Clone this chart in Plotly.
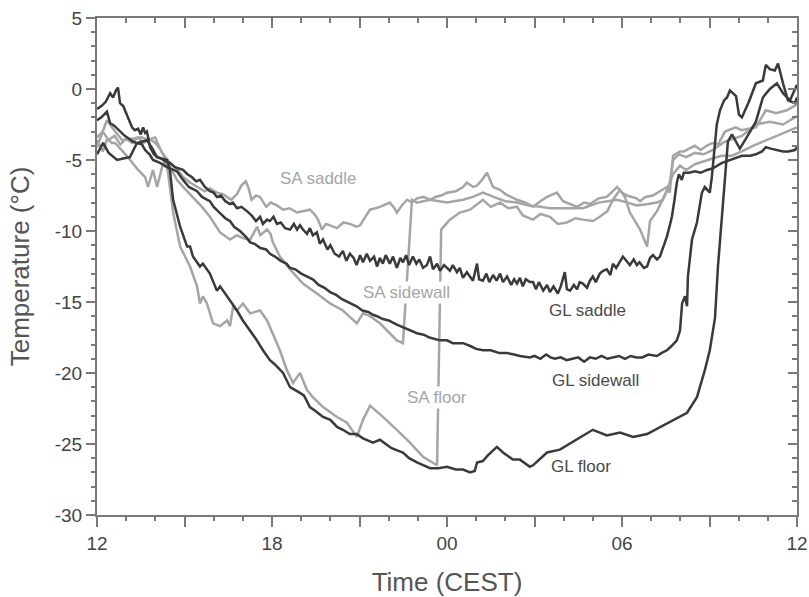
import plotly.graph_objects as go

# Hours after 12:00 CEST (0 = 12:00, 24 = 12:00 next day)
gl_saddle_t = [0, 0.15, 0.3, 0.45, 0.55, 0.65, 0.72, 0.79, 0.9, 1.03, 1.12, 1.2, 1.3, 1.41, 1.5, 1.58, 1.65, 1.71, 1.82, 1.95,
               2.06, 2.2, 2.35, 2.5, 2.67, 2.8, 2.95, 3.1, 3.25, 3.4, 3.53, 3.7, 3.87, 4.0, 4.11, 4.25, 4.4, 4.56, 4.66, 4.8,
               4.95, 5.14, 5.3, 5.45, 5.59, 5.69, 5.83, 5.93, 6.05, 6.17, 6.3, 6.45, 6.62, 6.75, 6.86, 6.96, 7.06, 7.2, 7.3, 7.4,
               7.54, 7.64, 7.75, 7.9, 8.0, 8.15, 8.3, 8.43, 8.55, 8.67, 8.8, 8.9, 9.02, 9.12, 9.25, 9.36, 9.5, 9.6, 9.7, 9.8,
               9.9, 10.04, 10.15, 10.28, 10.4, 10.49, 10.6, 10.7, 10.83, 10.95, 11.05, 11.18, 11.31, 11.42, 11.52, 11.66, 11.76, 11.9, 12.0, 12.1,
               12.2, 12.34, 12.44, 12.55, 12.68, 12.79, 12.89, 13.03, 13.1, 13.23, 13.35, 13.45, 13.58, 13.7, 13.82, 13.92, 14.06, 14.2, 14.3, 14.4,
               14.5, 14.6, 14.7, 14.84, 14.95, 15.05, 15.15, 15.3, 15.43, 15.53, 15.65, 15.8, 15.9, 16.04, 16.11, 16.22, 16.35, 16.46, 16.55, 16.66,
               16.8, 16.9, 17.0, 17.1, 17.24, 17.35, 17.48, 17.6, 17.69, 17.8, 17.93, 18.03, 18.15, 18.27, 18.4, 18.51, 18.6, 18.75, 18.86, 18.96,
               19.06, 19.2, 19.3, 19.4, 19.54, 19.64, 19.71, 19.8, 19.88, 19.95, 20.05, 20.12, 20.3, 20.5, 20.7, 20.91, 21.1, 21.43, 21.7, 22.11,
               22.4, 22.59, 22.8, 22.93, 23.1, 23.3, 23.52, 23.7, 23.93, 24.0]
gl_saddle_v = [-1.4, -1.2, -0.9, -0.3, -0.6, -0.1, 0.1, -1.0, -1.2, -1.8, -2.3, -2.7, -2.9, -2.8, -3.2, -2.7, -3.1, -3.0, -4.1, -4.6,
               -4.8, -4.9, -5.1, -5.2, -5.5, -5.6, -5.7, -6.0, -6.2, -6.5, -6.4, -6.9, -7.2, -7.3, -7.6, -7.5, -7.9, -8.1, -8.0, -8.4,
               -8.3, -8.6, -8.9, -9.3, -9.0, -9.5, -9.2, -9.3, -9.0, -9.5, -9.4, -9.8, -9.9, -9.5, -9.9, -9.6, -9.9, -10.2, -9.8, -10.3,
               -10.1, -10.9, -10.6, -11.3, -11.0, -11.6, -11.8, -11.4, -12.1, -11.6, -11.9, -12.4, -11.7, -12.2, -11.6, -12.1, -11.8, -12.5, -11.9, -12.3,
               -11.7, -12.3, -11.8, -12.6, -11.9, -12.2, -11.7, -12.4, -11.8, -12.3, -12.0, -12.6, -12.4, -11.8, -12.7, -12.3, -12.8, -12.4, -12.6, -12.8,
               -12.4, -12.9, -12.6, -13.3, -12.9, -13.2, -13.5, -12.3, -13.4, -13.5, -13.0, -13.6, -13.1, -13.5, -13.0, -13.6, -13.2, -13.8, -13.4, -13.7,
               -13.3, -13.9, -13.4, -13.6, -13.6, -14.1, -13.6, -14.2, -13.8, -14.3, -13.9, -14.4, -13.9, -12.9, -14.1, -14.2, -13.8, -14.1, -13.6, -13.7,
               -14.0, -13.5, -13.2, -13.6, -13.0, -12.8, -12.7, -13.1, -12.3, -12.6, -12.2, -11.8, -12.1, -12.4, -12.0, -12.4, -12.2, -12.6, -12.5, -11.9,
               -11.7, -12.0, -11.8, -11.2, -10.4, -9.6, -9.0, -7.8, -6.6, -6.0, -6.4, -5.9, -5.9, -5.8, -5.9, -5.7, -5.6, -5.2, -5.0, -4.7,
               -4.7, -4.6, -4.4, -4.1, -4.2, -4.3, -4.4, -4.4, -4.3, -4.1]

gl_sidewall_t = [0, 0.15, 0.34, 0.45, 0.6, 0.79, 0.95, 1.1, 1.23, 1.35, 1.54, 1.65, 1.8, 1.92, 2.16, 2.4, 2.74, 2.95, 3.15, 3.43,
                 3.6, 3.87, 4.0, 4.2, 4.4, 4.56, 4.7, 4.9, 5.1, 5.25, 5.4, 5.6, 5.8, 5.93, 6.1, 6.3, 6.5, 6.62, 6.8, 7.0,
                 7.2, 7.4, 7.6, 7.8, 7.99, 8.2, 8.4, 8.67, 8.9, 9.1, 9.3, 9.46, 9.6, 9.8, 10.0, 10.28, 10.5, 10.7, 10.97, 11.2,
                 11.4, 11.76, 12.0, 12.2, 12.55, 12.8, 13.0, 13.23, 13.5, 13.8, 14.06, 14.3, 14.5, 14.84, 15.0, 15.2, 15.4, 15.55, 15.7, 15.9,
                 16.1, 16.3, 16.5, 16.7, 16.9, 17.1, 17.3, 17.5, 17.7, 17.9, 18.1, 18.3, 18.5, 18.7, 18.9, 19.1, 19.2, 19.35, 19.54, 19.7,
                 19.88, 19.99, 20.06, 20.16, 20.23, 20.26, 20.4, 20.57, 20.74, 20.84, 21.01, 21.08, 21.15, 21.25, 21.36, 21.5, 21.6, 21.7, 21.91, 22.01,
                 22.11, 22.35, 22.59, 22.83, 22.93, 23.07, 23.24, 23.35, 23.52, 23.69, 23.93, 24.0]
gl_sidewall_v = [-2.2, -2.0, -1.6, -2.4, -2.6, -3.0, -3.3, -3.5, -3.7, -3.8, -3.9, -4.3, -4.6, -5.0, -5.2, -5.5, -5.8, -6.4, -6.9, -7.2,
                 -7.6, -7.9, -8.3, -8.7, -9.1, -9.3, -9.7, -10.0, -10.4, -10.8, -10.9, -11.2, -11.3, -11.6, -11.8, -12.1, -12.3, -12.6, -12.7, -13.0,
                 -13.2, -13.4, -13.8, -14.0, -14.3, -14.5, -14.8, -15.1, -15.3, -15.6, -15.7, -15.9, -16.0, -16.2, -16.3, -16.6, -16.8, -17.0, -17.2, -17.3,
                 -17.5, -17.7, -17.7, -17.9, -17.9, -18.1, -18.3, -18.4, -18.4, -18.6, -18.6, -18.7, -18.8, -18.9, -18.8, -19.0, -18.7, -18.9, -19.0, -18.9,
                 -19.1, -19.0, -18.9, -19.2, -18.9, -19.0, -18.8, -19.0, -18.9, -18.8, -19.0, -18.8, -18.9, -18.9, -18.7, -18.8, -18.8, -18.6, -18.4, -18.1,
                 -17.7, -17.0, -15.1, -14.6, -15.3, -13.2, -10.6, -9.4, -7.3, -6.9, -7.3, -6.2, -4.8, -2.5, -1.5, -0.8, -0.6, -0.1, -0.5, -1.8,
                 -2.0, -0.9, 0.4, 0.6, 1.7, 1.4, 1.3, 1.8, 0.4, -0.8, -1.0, -0.6]

gl_floor_t = [0, 0.21, 0.4, 0.69, 0.9, 1.13, 1.37, 1.71, 1.9, 2.06, 2.4, 2.5, 2.61, 2.85, 3.09, 3.19, 3.29, 3.53, 3.63, 3.87,
              4.11, 4.22, 4.56, 4.8, 5.0, 5.25, 5.45, 5.69, 5.93, 6.1, 6.38, 6.62, 6.8, 6.96, 7.1, 7.3, 7.5, 7.75, 8.0, 8.23,
              8.43, 8.67, 8.9, 9.12, 9.46, 9.7, 9.9, 10.1, 10.49, 10.7, 10.97, 11.2, 11.42, 11.7, 12.0, 12.3, 12.55, 12.79, 12.95, 13.03,
              13.23, 13.4, 13.6, 13.71, 13.92, 14.06, 14.26, 14.5, 14.84, 14.95, 15.2, 15.43, 15.87, 16.2, 16.46, 16.8, 17.0, 17.24, 17.48, 17.93,
              18.2, 18.38, 18.86, 19.3, 19.75, 20.23, 20.57, 20.84, 21.01, 21.19, 21.29, 21.43, 21.53, 21.63, 21.77, 22.04, 22.25, 22.59, 22.83, 23.07,
              23.31, 23.52, 23.76, 24.0]
gl_floor_v = [-4.6, -3.8, -4.5, -5.0, -4.9, -4.8, -3.8, -3.6, -4.2, -4.8, -5.0, -5.7, -7.8, -9.7, -11.1, -11.1, -11.8, -12.5, -12.3, -13.0,
              -14.2, -13.9, -14.9, -15.6, -16.3, -17.0, -17.6, -18.4, -19.1, -19.4, -20.0, -21.0, -21.2, -21.4, -21.6, -22.4, -22.7, -23.1, -23.3, -23.8,
              -24.0, -24.3, -24.3, -24.6, -24.9, -24.7, -25.0, -25.3, -25.6, -26.0, -26.3, -26.5, -26.7, -26.7, -26.6, -26.8, -26.8, -27.0, -26.9, -26.3,
              -26.2, -25.8, -25.4, -25.2, -25.6, -25.8, -26.1, -26.1, -26.6, -26.5, -26.0, -25.6, -25.4, -25.0, -24.7, -24.3, -24.0, -24.2, -24.4, -24.2,
              -24.4, -24.5, -24.3, -23.8, -23.3, -22.8, -21.7, -19.8, -18.4, -16.1, -12.5, -9.0, -6.2, -3.7, -3.2, -4.2, -3.5, -2.3, -0.6, 0.0,
              0.4, -0.3, -0.8, 0.3]

sa_saddle_t = [0, 0.34, 0.51, 0.86, 1.2, 1.54, 1.75, 1.99, 2.23, 2.5, 2.74, 2.95, 3.2, 3.43, 3.7, 3.87, 4.11, 4.32, 4.6, 4.8,
               4.95, 5.1, 5.2, 5.3, 5.45, 5.59, 5.8, 5.95, 6.17, 6.38, 6.6, 6.86, 7.06, 7.3, 7.45, 7.58, 7.71, 7.85, 7.99, 8.23,
               8.45, 8.67, 8.9, 9.02, 9.2, 9.36, 9.55, 9.7, 10.04, 10.2, 10.28, 10.45, 10.63, 10.8, 10.97, 11.2, 11.42, 11.6, 11.8, 12.0,
               12.3, 12.55, 12.68, 12.9, 13.03, 13.2, 13.37, 13.5, 13.58, 13.82, 14.0, 14.4, 14.7, 14.95, 15.2, 15.43, 15.77, 15.98, 16.2, 16.46,
               16.7, 16.9, 17.2, 17.48, 17.83, 18.0, 18.17, 18.5, 18.62, 18.8, 19.06, 19.3, 19.54, 19.64, 19.75, 19.99, 20.12, 20.3, 20.5, 20.7,
               20.9, 21.1, 21.3, 21.53, 21.9, 22.1, 22.59, 22.93, 23.28, 23.65, 24.0]
sa_saddle_v = [-4.1, -2.2, -2.7, -3.6, -3.5, -3.4, -3.6, -3.4, -4.5, -5.2, -5.6, -6.2, -6.6, -6.9, -7.2, -7.0, -7.3, -7.4, -7.8, -7.4,
               -6.8, -6.5, -7.0, -7.8, -7.5, -7.6, -8.3, -8.0, -8.2, -8.5, -8.4, -8.7, -8.6, -8.5, -8.8, -9.2, -9.9, -9.5, -9.6, -9.8,
               -9.4, -9.5, -9.7, -9.6, -9.0, -8.5, -8.4, -8.3, -8.0, -8.4, -8.7, -8.2, -7.8, -8.0, -7.7, -7.6, -7.8, -7.6, -7.5, -7.3,
               -7.2, -6.9, -6.6, -6.9, -6.8, -6.4, -5.9, -6.6, -6.9, -7.1, -7.4, -7.8, -8.0, -8.3, -7.9, -7.6, -7.3, -7.9, -8.1, -8.3,
               -8.0, -8.1, -7.7, -7.6, -6.9, -7.3, -7.5, -7.7, -7.9, -7.6, -7.5, -7.2, -6.9, -7.3, -4.7, -4.4, -4.4, -4.2, -4.0, -4.3,
               -4.0, -3.8, -3.9, -3.0, -2.7, -2.9, -2.7, -1.5, -1.7, -1.5, -1.1]

sa_sidewall_t = [0, 0.2, 0.4, 0.6, 0.8, 1.0, 1.2, 1.4, 1.6, 1.8, 2.0, 2.16, 2.4, 2.74, 3.0, 3.29, 3.6, 3.87, 4.22, 4.56,
                 4.8, 5.0, 5.25, 5.49, 5.6, 5.83, 5.95, 6.03, 6.27, 6.62, 7.06, 7.54, 7.99, 8.43, 8.91, 9.12, 9.36, 9.7, 10.04, 10.28,
                 10.49, 10.8, 10.97, 11.42, 12.0, 12.55, 12.89, 13.23, 13.6, 14.0, 14.4, 14.8, 15.2, 15.53, 16.0, 16.66, 17.2, 17.83, 18.2, 18.5,
                 18.9, 19.2, 19.4, 19.64, 19.75, 19.95, 20.2, 20.5, 20.8, 21.1, 21.53, 22.11, 22.59, 23.07, 23.52, 24.0]
sa_sidewall_v = [-3.4, -3.0, -3.6, -3.3, -3.9, -3.5, -3.8, -3.4, -3.8, -3.5, -3.8, -4.2, -5.1, -6.4, -7.0, -7.6, -8.3, -9.0, -10.1, -10.6,
                 -10.3, -10.5, -10.6, -9.7, -10.3, -9.9, -10.2, -10.8, -11.8, -12.7, -13.7, -14.4, -15.1, -15.6, -16.5, -15.8, -16.0, -16.5, -17.2, -17.7,
                 -17.9, -7.8, -8.0, -7.8, -8.0, -7.8, -7.6, -7.3, -7.6, -7.9, -8.0, -8.2, -8.3, -8.4, -8.4, -8.4, -8.0, -7.8, -8.0, -8.2,
                 -8.1, -8.0, -7.8, -6.6, -5.0, -4.6, -4.8, -4.5, -4.6, -4.3, -3.7, -3.3, -2.5, -2.3, -2.5, -1.9]

sa_floor_t = [0, 0.2, 0.35, 0.51, 0.62, 0.9, 1.06, 1.41, 1.65, 1.75, 1.92, 2.06, 2.23, 2.33, 2.43, 2.61, 2.85, 3.19, 3.43, 3.53,
              3.63, 3.77, 3.98, 4.22, 4.46, 4.56, 4.66, 4.8, 5.0, 5.25, 5.59, 5.83, 6.03, 6.27, 6.51, 6.72, 6.96, 7.2, 7.4, 7.75,
              8.23, 8.57, 8.91, 9.12, 9.36, 9.7, 10.28, 10.73, 11.18, 11.52, 11.66, 11.8, 12.1, 12.44, 12.79, 13.23, 13.5, 13.82, 14.1, 14.4,
              14.6, 14.95, 15.2, 15.53, 15.8, 16.11, 16.4, 16.66, 17.0, 17.24, 17.5, 17.69, 17.93, 18.1, 18.27, 18.62, 18.86, 18.96, 19.2, 19.54,
              19.75, 19.99, 20.2, 20.5, 20.8, 21.1, 21.4, 21.77, 22.11, 22.49, 22.83, 23.28, 23.65, 24.0]
sa_floor_v = [-3.6, -4.4, -3.5, -3.8, -3.8, -4.4, -4.8, -5.7, -6.2, -6.9, -5.7, -6.9, -5.5, -5.0, -5.8, -8.7, -11.1, -12.5, -13.9, -15.1,
              -14.6, -15.1, -16.5, -16.7, -16.3, -16.7, -15.4, -15.6, -15.1, -15.8, -15.6, -16.3, -17.2, -18.4, -19.8, -20.7, -20.0, -21.2, -21.7, -22.4,
              -23.1, -23.5, -24.5, -23.3, -22.3, -22.9, -24.0, -24.9, -25.9, -26.3, -26.5, -9.9, -9.2, -8.7, -8.5, -7.8, -8.3, -8.0, -8.4, -8.3,
              -8.9, -9.2, -8.8, -9.0, -9.5, -9.4, -9.1, -9.2, -9.3, -9.0, -8.6, -7.8, -7.1, -7.6, -8.7, -9.9, -11.1, -9.3, -8.6, -7.2,
              -6.0, -5.4, -5.7, -5.3, -5.1, -4.9, -4.7, -4.7, -4.4, -4.0, -3.7, -3.3, -3.0, -2.7]

x_tickvals = [0, 3, 6, 9, 12, 15, 18, 21, 24]
x_ticktext = ['12', '', '18', '', '00', '', '06', '', '12']
x_minor = list(range(0, 25))
y_tickvals = [-30, -25, -20, -15, -10, -5, 0, 5]
y_ticktext = ['-30', '-25', '-20', '-15', '-10', '-5', '0', '5']
y_minor = list(range(-30, 6))

labels = [
    ("SA saddle", 7.6, -6.3, 'sa'),
    ("SA sidewall", 10.6, -14.3, 'sa'),
    ("SA floor", 11.66, -21.7, 'sa'),
    ("GL saddle", 16.8, -15.6, 'gl'),
    ("GL sidewall", 17.1, -20.5, 'gl'),
    ("GL floor", 16.6, -26.6, 'gl'),
]

DARK = '#3a3a3a'
GRAY = '#a5a5a5'
AXIS = '#7a7a7a'
TEXT = '#444444'
FONT = 'Liberation Sans, Arial, Helvetica, sans-serif'

fig = go.Figure()
for t, v in [(sa_saddle_t, sa_saddle_v), (sa_sidewall_t, sa_sidewall_v), (sa_floor_t, sa_floor_v)]:
    fig.add_trace(go.Scatter(x=t, y=v, mode='lines', line=dict(color=GRAY, width=2.5), showlegend=False, hoverinfo='skip'))
for t, v in [(gl_saddle_t, gl_saddle_v), (gl_sidewall_t, gl_sidewall_v), (gl_floor_t, gl_floor_v)]:
    fig.add_trace(go.Scatter(x=t, y=v, mode='lines', line=dict(color=DARK, width=2.5), showlegend=False, hoverinfo='skip'))
# invisible traces to activate the extra tick axes (mirrored top/right and minor ticks)
for xa, ya in [('x2', 'y2'), ('x3', 'y3'), ('x4', 'y4')]:
    fig.add_trace(go.Scatter(x=[0], y=[-30], xaxis=xa, yaxis=ya, mode='markers', marker=dict(opacity=0),
                             showlegend=False, hoverinfo='skip'))

for text, hx, ty, kind in labels:
    fig.add_annotation(x=hx, y=ty, text=text, showarrow=False, bgcolor='white', borderpad=1,
                       font=dict(family=FONT, size=17, color=GRAY if kind == 'sa' else '#4a4a4a'))

base = dict(showgrid=False, zeroline=False, automargin=False, tickcolor=AXIS, tickwidth=1.5)

fig.update_layout(
    width=809, height=597,
    margin=dict(l=97, r=12, t=18, b=82),
    paper_bgcolor='white', plot_bgcolor='white',
    font=dict(family=FONT, color=TEXT),
    xaxis=dict(range=[0, 24], tickmode='array', tickvals=x_tickvals, ticktext=x_ticktext,
               ticks='outside', ticklen=10, showline=True, linecolor=AXIS, linewidth=2,
               tickfont=dict(size=19, color=TEXT),
               title=dict(text='Time (CEST)', font=dict(size=26, color='#555555'), standoff=22), **base),
    yaxis=dict(range=[-30, 5], tickmode='array', tickvals=y_tickvals, ticktext=y_ticktext,
               ticks='outside', ticklen=9, showline=True, linecolor=AXIS, linewidth=2,
               tickfont=dict(size=19, color=TEXT),
               title=dict(text='Temperature (°C)', font=dict(size=26, color='#555555'), standoff=18), **base),
    xaxis2=dict(range=[0, 24], overlaying='x', side='top', anchor='y', tickmode='array', tickvals=x_tickvals,
                showticklabels=False, ticks='inside', ticklen=10, showline=True, linecolor=AXIS, linewidth=2, **base),
    yaxis2=dict(range=[-30, 5], overlaying='y', side='right', anchor='x', tickmode='array', tickvals=y_tickvals,
                showticklabels=False, ticks='inside', ticklen=9, showline=True, linecolor=AXIS, linewidth=2, **base),
    xaxis3=dict(range=[0, 24], overlaying='x', side='bottom', anchor='y', tickmode='array', tickvals=x_minor,
                showticklabels=False, ticks='outside', ticklen=5, showline=False, **base),
    yaxis3=dict(range=[-30, 5], overlaying='y', side='left', anchor='x', tickmode='array', tickvals=y_minor,
                showticklabels=False, ticks='outside', ticklen=5, showline=False, **base),
    xaxis4=dict(range=[0, 24], overlaying='x', side='top', anchor='y', tickmode='array', tickvals=x_minor,
                showticklabels=False, ticks='inside', ticklen=5, showline=False, **base),
    yaxis4=dict(range=[-30, 5], overlaying='y', side='right', anchor='x', tickmode='array', tickvals=y_minor,
                showticklabels=False, ticks='inside', ticklen=5, showline=False, **base),
)

fig.write_html("out.html", config={'displayModeBar': False},
               post_script="document.body.style.margin='0px';document.body.style.padding='0px';")
